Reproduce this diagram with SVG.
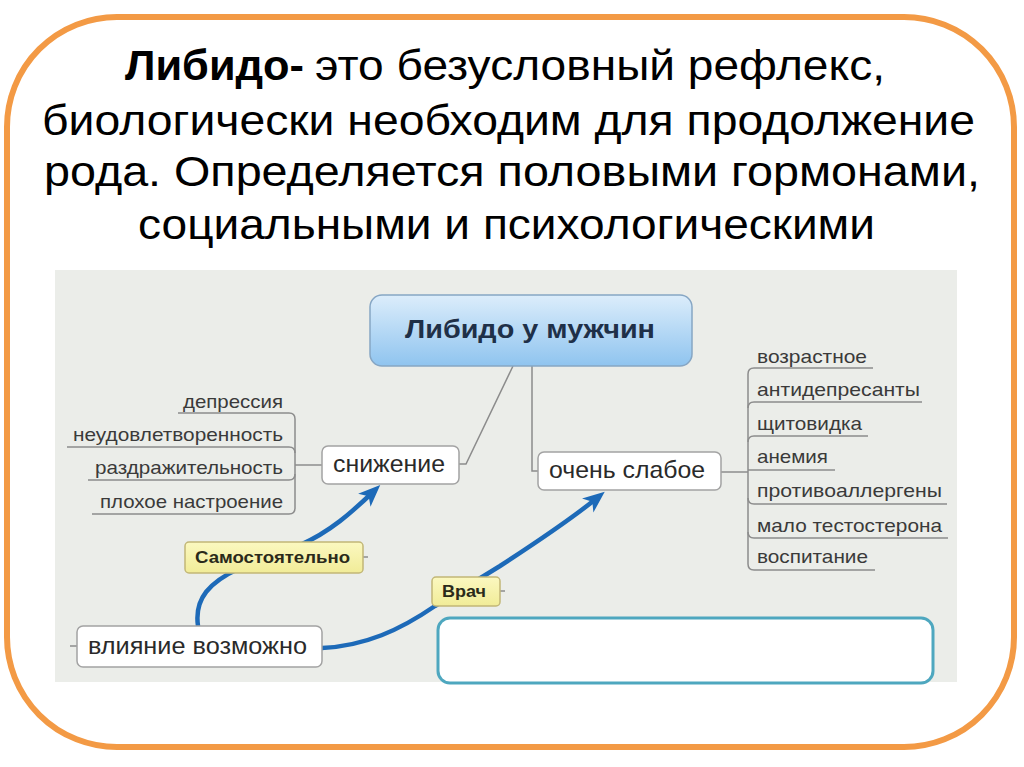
<svg xmlns="http://www.w3.org/2000/svg" width="1024" height="767" viewBox="0 0 1024 767">
<defs>
<linearGradient id="blueGrad" x1="0" y1="0" x2="0" y2="1">
<stop offset="0" stop-color="#dcedfb"/>
<stop offset="1" stop-color="#8fc4ef"/>
</linearGradient>
<linearGradient id="yelGrad" x1="0" y1="0" x2="0" y2="1">
<stop offset="0" stop-color="#fbf8c0"/>
<stop offset="1" stop-color="#f1ec98"/>
</linearGradient>
<marker id="ah" markerUnits="userSpaceOnUse" markerWidth="24" markerHeight="20" refX="12" refY="9" orient="auto">
<path d="M0,0 L22,9 L0,18 L6,9 Z" fill="#1d6ab8"/>
</marker>
<style>
.title{font-family:"Liberation Sans",Arial,sans-serif;font-size:43px;fill:#000;}
.bold{font-weight:bold;}
.item{font-family:"Liberation Sans",Arial,sans-serif;font-size:18.5px;fill:#3a3a3a;}
.node{fill:#fff;stroke:#a3a3a3;stroke-width:1.5;}
.ntext{font-family:"Liberation Sans",Arial,sans-serif;font-size:24px;fill:#2a2a2a;}
.ylw{fill:url(#yelGrad);stroke:#c2b777;stroke-width:1.5;}
.ytext{font-family:"Liberation Sans",Arial,sans-serif;font-size:17px;font-weight:bold;fill:#2a2a1a;}
.gline{fill:none;stroke:#8c8c8c;stroke-width:1.5;}
.uline{fill:none;stroke:#8c8c8c;stroke-width:1.5;}
.arrow{fill:none;stroke:#1d6ab8;stroke-width:4.5;stroke-linecap:round;marker-end:url(#ah);}
</style>
</defs>
<rect x="0" y="0" width="1024" height="767" fill="#fff"/>
<rect x="7" y="17" width="1007" height="730" rx="110" ry="110" fill="#fff" stroke="#f39a45" stroke-width="6"/>

<g id="title">
<text class="title bold" x="125" y="80" textLength="179" lengthAdjust="spacingAndGlyphs">Либидо-</text>
<text class="title" x="315" y="80" textLength="570" lengthAdjust="spacingAndGlyphs">это безусловный рефлекс,</text>
<text class="title" x="42" y="135" textLength="933" lengthAdjust="spacingAndGlyphs">биологически необходим для продолжение</text>
<text class="title" x="44" y="186" textLength="936" lengthAdjust="spacingAndGlyphs">рода. Определяется половыми гормонами,</text>
<text class="title" x="138" y="239" textLength="737" lengthAdjust="spacingAndGlyphs">социальными и психологическими</text>
</g>

<rect id="panel" x="55" y="270" width="902" height="412" fill="#ebede9"/>

<g id="connectors">
<path class="gline" d="M513,366 L466,464 L459,464"/>
<path class="gline" d="M532,366 V471 H538"/>
<path class="gline" d="M295,465 H322"/>
<path class="gline" d="M721,472 H748"/>
<path class="gline" d="M70,646 H77"/>
<path class="gline" d="M363,557 H368"/>
<path class="gline" d="M500,591 H505"/>
<path class="arrow" d="M198,626 C194,598 210,582 240,568 L300,545 C330,532 352,512 373,492"/>
<path class="arrow" d="M322,648 C365,646 400,630 435,606 L500,566 C540,540 570,520 597,498"/>
</g>

<g id="left-list">
<path class="uline" d="M178,413 H289 Q295,413 295,419 V508 Q295,514 289,514 H92"/>
<path class="uline" d="M67,447 H289 Q295,447 295,453"/>
<path class="uline" d="M88,480 H289 Q295,480 295,474"/>
<text class="item" x="183" y="408" textLength="100" lengthAdjust="spacingAndGlyphs">депрессия</text>
<text class="item" x="73" y="441" textLength="210" lengthAdjust="spacingAndGlyphs">неудовлетворенность</text>
<text class="item" x="95" y="474" textLength="188" lengthAdjust="spacingAndGlyphs">раздражительность</text>
<text class="item" x="100" y="508" textLength="183" lengthAdjust="spacingAndGlyphs">плохое настроение</text>
</g>

<g id="right-list">
<path class="uline" d="M873,368 H754 Q748,368 748,374 V564 Q748,570 754,570 H875"/>
<path class="uline" d="M748,408 Q748,402 754,402 H922"/>
<path class="uline" d="M748,442 Q748,436 754,436 H868"/>
<path class="uline" d="M748,470 H835"/>
<path class="uline" d="M748,498 Q748,504 754,504 H947"/>
<path class="uline" d="M748,532 Q748,538 754,538 H948"/>
<text class="item" x="757" y="363" textLength="110" lengthAdjust="spacingAndGlyphs">возрастное</text>
<text class="item" x="757" y="396" textLength="163" lengthAdjust="spacingAndGlyphs">антидепресанты</text>
<text class="item" x="757" y="430" textLength="105" lengthAdjust="spacingAndGlyphs">щитовидка</text>
<text class="item" x="757" y="463" textLength="71" lengthAdjust="spacingAndGlyphs">анемия</text>
<text class="item" x="757" y="497" textLength="185" lengthAdjust="spacingAndGlyphs">противоаллергены</text>
<text class="item" x="757" y="532" textLength="185" lengthAdjust="spacingAndGlyphs">мало тестостерона</text>
<text class="item" x="757" y="563" textLength="111" lengthAdjust="spacingAndGlyphs">воспитание</text>
</g>

<g id="node-center">
<rect x="370" y="295" width="322" height="71" rx="12" fill="url(#blueGrad)" stroke="#86a6c4" stroke-width="1.5"/>
<text x="405" y="338" font-family="Liberation Sans, Arial, sans-serif" font-size="25" font-weight="bold" fill="#1f3048" textLength="250" lengthAdjust="spacingAndGlyphs">Либидо у мужчин</text>
</g>

<g id="node-snizhenie">
<rect class="node" x="322" y="446" width="137" height="38" rx="6"/>
<text class="ntext" x="333" y="472" textLength="112" lengthAdjust="spacingAndGlyphs">снижение</text>
</g>

<g id="node-slaboe">
<rect class="node" x="538" y="452" width="183" height="38" rx="6"/>
<text class="ntext" x="549" y="478" textLength="156" lengthAdjust="spacingAndGlyphs">очень слабое</text>
</g>

<g id="node-vliyanie">
<rect class="node" x="77" y="626" width="245" height="41" rx="6"/>
<text class="ntext" x="88" y="654" textLength="219" lengthAdjust="spacingAndGlyphs">влияние возможно</text>
</g>

<g id="label-samost">
<rect class="ylw" x="185" y="542" width="178" height="31" rx="4"/>
<text class="ytext" x="195" y="563" textLength="155" lengthAdjust="spacingAndGlyphs">Самостоятельно</text>
</g>

<g id="label-vrach">
<rect class="ylw" x="432" y="577" width="68" height="29" rx="4"/>
<text class="ytext" x="442" y="597" textLength="44" lengthAdjust="spacingAndGlyphs">Врач</text>
</g>

<g id="empty-box">
<rect x="438" y="618" width="495" height="65" rx="12" fill="#fff" stroke="#4ea7bf" stroke-width="3"/>
</g>
</svg>
